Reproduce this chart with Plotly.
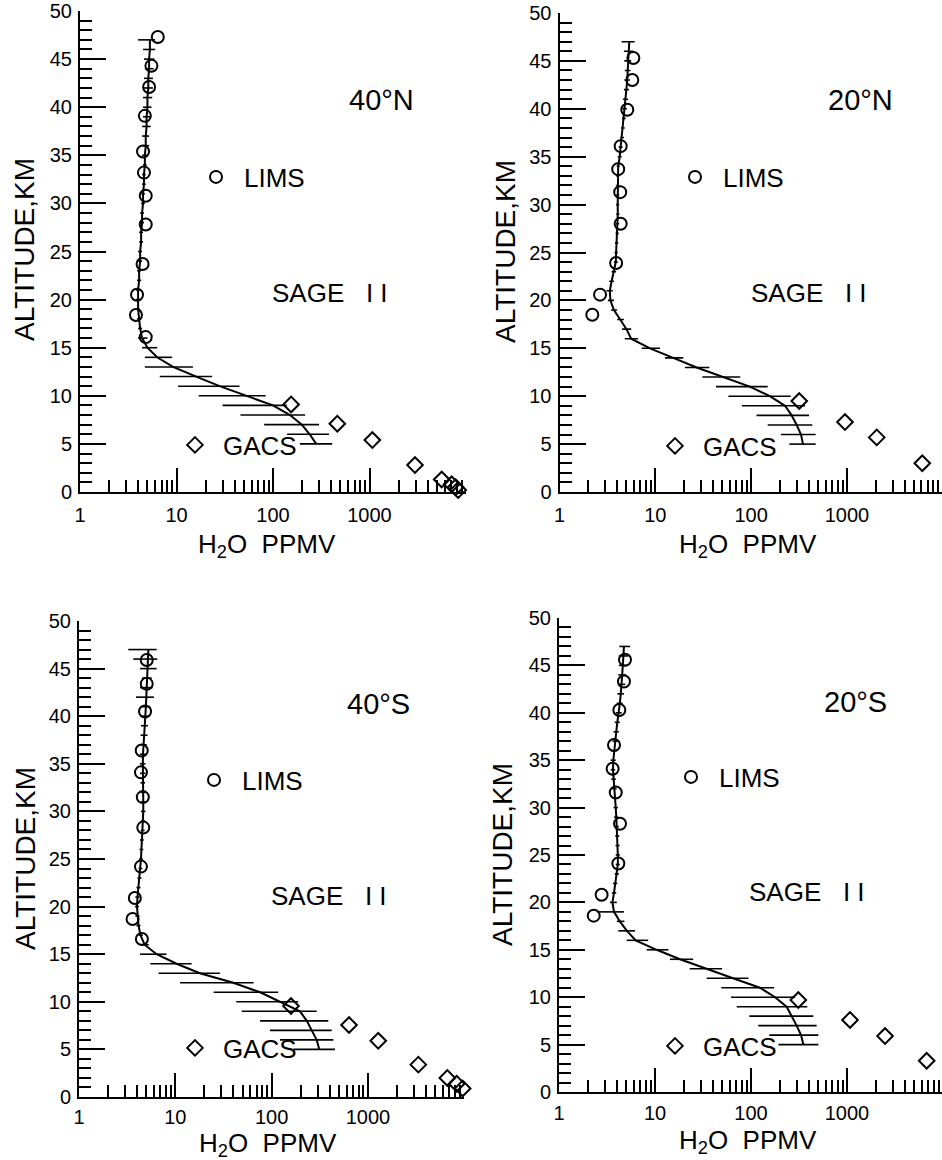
import plotly.graph_objects as go

# ---------------- data ----------------
sage_alt = [5, 6, 7, 8, 9, 10, 11, 12, 13, 14, 15, 16, 17, 18, 19, 20, 21, 22, 23, 24, 25, 26,
            27, 28, 29, 30, 31, 32, 33, 34, 35, 36, 37, 38, 39, 40, 41, 42, 43, 44, 45, 46, 47]

# 40 N
sage_40n = [280, 240, 199, 150, 100, 53, 28, 16, 9.2, 6.3, 5.0,
            4.4, 4.2, 4.1, 4.0, 4.0, 4.0, 4.1, 4.1, 4.2, 4.2, 4.3, 4.3, 4.4, 4.4, 4.5, 4.5,
            4.6, 4.6, 4.7, 4.7, 4.8, 4.8, 4.9, 4.9, 5.0, 5.0, 5.1, 5.1, 5.2, 5.2, 5.3, 5.3]
sage_lo_40n = [190, 140, 81, 46, 30, 17, 10.4, 6.7, 4.7, 4.7, 4.4,
               4.0, 4.0, 3.9, 3.8, 3.8, 3.8, 3.9, 3.9, 4.0, 4.0, 4.1, 4.1, 4.2, 4.2, 4.3, 4.3,
               4.4, 4.4, 4.5, 4.4, 4.4, 4.4, 4.4, 4.5, 4.5, 4.5, 4.6, 4.6, 4.7, 4.6, 4.5, 4.0]
sage_hi_40n = [410, 380, 300, 215, 139, 84, 45, 23.4, 14.8, 9.0, 6.3,
               5.0, 4.4, 4.3, 4.2, 4.2, 4.2, 4.3, 4.3, 4.4, 4.4, 4.5, 4.5, 4.6, 4.6, 4.7, 4.7,
               4.8, 4.8, 4.9, 5.0, 5.2, 5.2, 5.4, 5.4, 5.5, 5.6, 5.7, 5.7, 5.8, 5.9, 6.0, 6.0]
lims_alt_40n = [47.3, 44.3, 42.1, 39.1, 35.4, 33.2, 30.8, 27.8, 23.7, 20.5, 18.4, 16.1]
lims_val_40n = [6.4, 5.5, 5.2, 4.7, 4.5, 4.6, 4.8, 4.8, 4.45, 3.9, 3.8, 4.8]
gacs_alt_40n = [9.1, 7.1, 5.4, 2.8, 1.3, 0.8, 0.5, 0.2]
gacs_val_40n = [154, 464, 1070, 2960, 5600, 7100, 7800, 8300]

# 20 N
sage_20n = [348, 332, 299, 265, 226, 157, 97, 51, 27, 15.4, 8.8,
            5.6, 5.0, 4.3, 3.7, 3.4, 3.35, 3.5, 3.7, 3.87, 3.9, 3.95, 4.0, 4.05, 4.06, 4.05, 4.05,
            4.05, 4.05, 4.1, 4.25, 4.35, 4.5, 4.6, 4.7, 4.8, 4.9, 5.0, 5.1, 5.15, 5.2, 5.3, 5.35]
sage_lo_20n = [251, 205, 149, 114, 80, 58, 43, 31, 20.4, 12.6, 7.2,
               4.8, 4.5, 4.0, 3.45, 3.2, 3.1, 3.3, 3.5, 3.7, 3.75, 3.8, 3.85, 3.9, 3.9, 3.9, 3.9,
               3.9, 3.9, 3.95, 4.05, 4.15, 4.3, 4.4, 4.5, 4.55, 4.6, 4.7, 4.75, 4.8, 4.75, 4.7, 4.45]
sage_hi_20n = [472, 472, 435, 402, 365, 259, 149, 77, 36.6, 19.6, 11.2,
               6.6, 5.6, 4.7, 4.0, 3.7, 3.6, 3.7, 3.9, 4.05, 4.05, 4.1, 4.15, 4.2, 4.22, 4.2, 4.2,
               4.2, 4.2, 4.25, 4.45, 4.55, 4.7, 4.8, 4.9, 5.05, 5.2, 5.3, 5.45, 5.5, 5.6, 5.9, 6.1]
lims_alt_20n = [45.3, 43.0, 39.9, 36.1, 33.7, 31.3, 28.0, 23.9, 20.6, 18.5]
lims_val_20n = [5.9, 5.75, 5.1, 4.35, 4.1, 4.3, 4.35, 3.9, 2.65, 2.2]
gacs_alt_20n = [9.5, 7.3, 5.7, 3.0]
gacs_val_20n = [318, 955, 2050, 6120]

# 40 S
sage_40s = [313, 294, 261, 232, 197, 122, 76, 40, 18, 10.3, 6.4,
            4.8, 4.35, 4.15, 4.05, 4.0, 4.05, 4.15, 4.25, 4.35, 4.4, 4.45, 4.5, 4.6, 4.62, 4.65, 4.65,
            4.62, 4.6, 4.6, 4.6, 4.62, 4.7, 4.75, 4.8, 4.88, 4.95, 5.0, 5.05, 5.1, 5.15, 5.2, 5.25]
sage_lo_40s = [168, 122, 96, 76, 49, 43, 25, 11.2, 6.7, 5.5, 4.3,
               4.4, 4.15, 3.95, 3.85, 3.8, 3.85, 3.95, 4.05, 4.15, 4.2, 4.25, 4.3, 4.4, 4.4, 4.4, 4.4,
               4.35, 4.35, 4.3, 4.3, 4.3, 4.35, 4.35, 4.4, 4.4, 4.4, 3.9, 4.3, 4.5, 4.3, 3.66, 3.25]
sage_hi_40s = [455, 437, 421, 388, 294, 189, 117, 65, 29, 14.8, 8.1,
               5.3, 4.6, 4.35, 4.25, 4.2, 4.25, 4.35, 4.45, 4.55, 4.6, 4.65, 4.7, 4.8, 4.85, 4.9, 4.9,
               4.9, 4.85, 4.9, 4.9, 4.95, 5.05, 5.15, 5.2, 5.35, 5.5, 6.0, 5.8, 5.7, 6.4, 6.5, 6.4]
lims_alt_40s = [45.9, 43.4, 40.5, 36.4, 34.1, 31.5, 28.3, 24.2, 20.9, 18.7, 16.6]
lims_val_40s = [5.05, 5.05, 4.85, 4.48, 4.4, 4.6, 4.65, 4.4, 3.8, 3.6, 4.5]
gacs_alt_40s = [9.56, 7.56, 5.9, 3.4, 2.0, 1.4, 0.9]
gacs_val_40s = [159, 637, 1280, 3340, 6680, 8350, 9640]

# 20 S
sage_20s = [351, 332, 299, 265, 235, 178, 124, 65, 34.5, 18.2, 10.4,
            6.3, 5.1, 4.3, 3.74, 3.6, 3.74, 3.85, 4.0, 4.1, 4.1, 4.08, 4.05, 4.0, 3.95, 3.9, 3.85,
            3.78, 3.7, 3.65, 3.68, 3.75, 3.85, 3.95, 4.05, 4.2, 4.3, 4.4, 4.5, 4.55, 4.62, 4.7, 4.75]
sage_lo_20s = [193, 155, 119, 96, 71, 62, 49, 34.5, 23, 14.3, 8.2,
               5.07, 4.15, 4.0, 2.5, 3.4, 3.55, 3.65, 3.8, 3.9, 3.9, 3.88, 3.85, 3.8, 3.75, 3.7, 3.65,
               3.58, 3.5, 3.45, 3.45, 3.5, 3.6, 3.7, 3.8, 3.9, 4.0, 4.05, 4.1, 4.15, 4.2, 4.2, 4.25]
sage_hi_20s = [503, 503, 483, 446, 386, 287, 174, 94, 50, 25, 13.8,
               8.5, 6.2, 4.8, 4.75, 4.0, 3.95, 4.05, 4.2, 4.3, 4.3, 4.28, 4.25, 4.2, 4.15, 4.1, 4.05,
               3.98, 3.9, 3.85, 3.9, 4.0, 4.1, 4.2, 4.3, 4.5, 4.6, 4.75, 4.9, 5.0, 5.1, 5.3, 5.5]
lims_alt_20s = [45.6, 43.3, 40.3, 36.6, 34.1, 31.6, 28.3, 24.1, 20.8, 18.6]
lims_val_20s = [4.87, 4.75, 4.25, 3.74, 3.62, 3.9, 4.32, 4.15, 2.78, 2.3]
gacs_alt_20s = [9.7, 7.6, 5.9, 3.3]
gacs_val_20s = [311, 1075, 2490, 6760]

panel_labels = ["40°N", "20°N", "40°S", "20°S"]
x_tick_vals = [1, 10, 100, 1000]
x_tick_text = ["1", "10", "100", "1000"]

# ---------------- layout helpers ----------------
W, H = 942, 1160
FONT = "Liberation Sans, Arial, sans-serif"


def px(x, y):
    return x / W, 1 - y / H


panels = [
    dict(sage=sage_40n, lo=sage_lo_40n, hi=sage_hi_40n,
         lalt=lims_alt_40n, lval=lims_val_40n, galt=gacs_alt_40n, gval=gacs_val_40n,
         x0=80, x1=466, y0=492, y1=11, xr=4.0, xstand=4,
         lbl=(381, 100), sage_t=(330, 293), lims_key=(215, 177), gacs_key=(194, 445),
         ytitle=(25, 250), xtitle=(267, 545)),
    dict(sage=sage_20n, lo=sage_lo_20n, hi=sage_hi_20n,
         lalt=lims_alt_20n, lval=lims_val_20n, galt=gacs_alt_20n, gval=gacs_val_20n,
         x0=559.5, x1=942, y0=492, y1=13, xr=(942 - 559.5) / 95.8, xstand=4,
         lbl=(860, 100), sage_t=(809, 293), lims_key=(694, 177), gacs_key=(674, 446),
         ytitle=(505, 252), xtitle=(748, 545)),
    dict(sage=sage_40s, lo=sage_lo_40s, hi=sage_hi_40s,
         lalt=lims_alt_40s, lval=lims_val_40s, galt=gacs_alt_40s, gval=gacs_val_40s,
         x0=79, x1=464, y0=1097, y1=621, xr=(464 - 79) / 96.3, xstand=1,
         lbl=(378, 704), sage_t=(329, 896), lims_key=(213, 780), gacs_key=(194, 1048),
         ytitle=(25, 859), xtitle=(268, 1144)),
    dict(sage=sage_20s, lo=sage_lo_20s, hi=sage_hi_20s,
         lalt=lims_alt_20s, lval=lims_val_20s, galt=gacs_alt_20s, gval=gacs_val_20s,
         x0=559, x1=942, y0=1092, y1=618, xr=(942 - 559) / 96.0, xstand=2,
         lbl=(855, 702), sage_t=(807, 892), lims_key=(690, 777), gacs_key=(674, 1046),
         ytitle=(503, 855), xtitle=(748, 1141)),
]

fig = go.Figure()
annotations = []
layout = dict(width=W, height=H, margin=dict(l=0, r=0, t=0, b=0, pad=0, autoexpand=False),
              paper_bgcolor="white", plot_bgcolor="white", showlegend=True,
              font=dict(family=FONT, color="black"))

TEXT_SIZE = 26
ITEMW = 46
KEY_DX = 27     # legend symbol centre offset from legend left edge
leg_n = 0

for i, p in enumerate(panels):
    k = "" if i == 0 else str(i + 1)
    xa, ya = "x" + k, "y" + k
    xdom = [p["x0"] / W, min(1.0, p["x1"] / W)]
    ydom = [1 - p["y0"] / H, 1 - p["y1"] / H]

    layout["xaxis" + k] = dict(
        type="log", domain=xdom, range=[0, p["xr"]], anchor=ya, automargin=False,
        showline=True, linecolor="black", linewidth=2, showgrid=False, zeroline=False,
        ticks="inside", ticklen=24, tickwidth=2, tickcolor="black",
        tickmode="array", tickvals=x_tick_vals, ticktext=x_tick_text,
        tickfont=dict(size=20, color="black", family=FONT), ticklabelstandoff=p["xstand"],
        minor=dict(ticks="inside", ticklen=12, tickwidth=1.5, tickcolor="black",
                   dtick="D1", showgrid=False),
    )
    layout["yaxis" + k] = dict(
        domain=ydom, range=[0, 50], anchor=xa, automargin=False,
        showline=True, linecolor="black", linewidth=2, showgrid=False, zeroline=False,
        ticks="inside", ticklen=26, tickwidth=2, tickcolor="black",
        tickmode="linear", tick0=0, dtick=5,
        tickfont=dict(size=20, color="black", family=FONT), ticklabelstandoff=2,
        minor=dict(ticks="inside", ticklen=12, tickwidth=1.5, tickcolor="black",
                   dtick=1, showgrid=False),
    )

    plus = [h - v for h, v in zip(p["hi"], p["sage"])]
    minus = [v - l for l, v in zip(p["lo"], p["sage"])]
    fig.add_trace(go.Scatter(
        x=p["sage"], y=sage_alt, mode="lines", xaxis=xa, yaxis=ya,
        line=dict(color="black", width=2), showlegend=False, name="SAGE II",
        error_x=dict(type="data", symmetric=False, array=plus, arrayminus=minus,
                     color="black", thickness=1.6, width=0),
    ))

    # legend for LIMS
    leg_n += 1
    lk = "legend" if leg_n == 1 else "legend" + str(leg_n)
    fig.add_trace(go.Scatter(
        x=p["lval"], y=p["lalt"], mode="markers", xaxis=xa, yaxis=ya, name="LIMS",
        marker=dict(symbol="circle-open", size=12, color="black", line=dict(width=2)),
        cliponaxis=False, legend=lk,
    ))
    lx, ly = px(p["lims_key"][0] - KEY_DX, p["lims_key"][1])
    layout[lk] = dict(x=lx, y=ly, xanchor="left", yanchor="middle", bgcolor="rgba(0,0,0,0)",
                      borderwidth=0, itemwidth=ITEMW, font=dict(size=TEXT_SIZE, family=FONT, color="black"),
                      tracegroupgap=0)

    leg_n += 1
    lk = "legend" + str(leg_n)
    fig.add_trace(go.Scatter(
        x=p["gval"], y=p["galt"], mode="markers", xaxis=xa, yaxis=ya, name="GACS",
        marker=dict(symbol="diamond-open", size=12, color="black", line=dict(width=2)),
        cliponaxis=False, legend=lk,
    ))
    gx, gy = px(p["gacs_key"][0] - KEY_DX, p["gacs_key"][1])
    layout[lk] = dict(x=gx, y=gy, xanchor="left", yanchor="middle", bgcolor="rgba(0,0,0,0)",
                      borderwidth=0, itemwidth=ITEMW, font=dict(size=TEXT_SIZE, family=FONT, color="black"),
                      tracegroupgap=0)

    ax_, ay_ = px(*p["lbl"])
    annotations.append(dict(text=panel_labels[i], x=ax_, y=ay_, xref="paper", yref="paper",
                            showarrow=False, xanchor="center", yanchor="middle",
                            font=dict(size=29, family=FONT, color="black")))
    sx, sy = px(*p["sage_t"])
    annotations.append(dict(text="SAGE\u00a0\u00a0\u00a0I\u00a0I", x=sx, y=sy, xref="paper", yref="paper",
                            showarrow=False, xanchor="center", yanchor="middle",
                            font=dict(size=TEXT_SIZE, family=FONT, color="black")))
    tx, ty = px(*p["ytitle"])
    annotations.append(dict(text="ALTITUDE,KM", x=tx, y=ty, xref="paper", yref="paper",
                            showarrow=False, textangle=-90, xanchor="center", yanchor="middle",
                            font=dict(size=28, family=FONT, color="black")))
    hx, hy = px(*p["xtitle"])
    annotations.append(dict(text="H<sub>2</sub>O\u00a0\u00a0PPMV", x=hx, y=hy, xref="paper", yref="paper",
                            showarrow=False, xanchor="center", yanchor="middle",
                            font=dict(size=26, family=FONT, color="black")))

layout["annotations"] = annotations
fig.update_layout(**layout)
fig.write_html("out.html", config={"displayModeBar": False},
               post_script="document.body.style.margin='0px';document.body.style.overflow='hidden';")
